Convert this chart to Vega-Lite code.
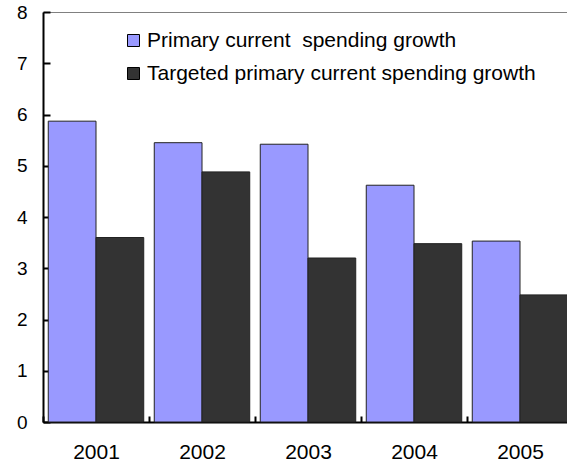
{
  "$schema": "https://vega.github.io/schema/vega-lite/v6.json",
  "autosize": "none",
  "width": 530,
  "height": 410,
  "padding": {"left": 43, "top": 12, "right": 0, "bottom": 44},
  "background": "white",
  "config": {
    "font": "Liberation Sans",
    "view": {"stroke": "#808080", "strokeWidth": 1}
  },
  "data": {
    "values": [
      {"year": "2001", "series": "Primary current \u00a0spending growth", "value": 5.87},
      {"year": "2001", "series": "Targeted primary current spending growth", "value": 3.6},
      {"year": "2002", "series": "Primary current \u00a0spending growth", "value": 5.45},
      {"year": "2002", "series": "Targeted primary current spending growth", "value": 4.88},
      {"year": "2003", "series": "Primary current \u00a0spending growth", "value": 5.42},
      {"year": "2003", "series": "Targeted primary current spending growth", "value": 3.2},
      {"year": "2004", "series": "Primary current \u00a0spending growth", "value": 4.62},
      {"year": "2004", "series": "Targeted primary current spending growth", "value": 3.48},
      {"year": "2005", "series": "Primary current \u00a0spending growth", "value": 3.53},
      {"year": "2005", "series": "Targeted primary current spending growth", "value": 2.48}
    ]
  },
  "mark": {"type": "bar", "stroke": "#222222", "strokeWidth": 1},
  "encoding": {
    "x": {
      "field": "year",
      "type": "nominal",
      "scale": {"paddingInner": 0, "paddingOuter": 0},
      "axis": {
        "title": null,
        "labelAngle": 0,
        "labelFontSize": 21,
        "labelColor": "black",
        "labelPadding": 25,
        "domainColor": "black",
        "domainWidth": 2,
        "tickColor": "black",
        "tickWidth": 2,
        "tickSize": -6,
        "tickBand": "extent"
      }
    },
    "xOffset": {
      "field": "series",
      "scale": {"paddingInner": 0, "paddingOuter": 0.11}
    },
    "y": {
      "field": "value",
      "type": "quantitative",
      "scale": {"domain": [0, 8], "nice": false},
      "axis": {
        "title": null,
        "values": [0, 1, 2, 3, 4, 5, 6, 7, 8],
        "grid": false,
        "labelFontSize": 19,
        "labelColor": "black",
        "labelPadding": 23,
        "domainColor": "black",
        "domainWidth": 2,
        "tickColor": "black",
        "tickWidth": 2,
        "tickSize": -7
      }
    },
    "color": {
      "field": "series",
      "type": "nominal",
      "scale": {"range": ["#9999ff", "#333333"]},
      "legend": {
        "title": null,
        "orient": "none",
        "legendX": 80,
        "legendY": 18,
        "symbolType": "square",
        "symbolSize": 144,
        "symbolStrokeColor": "black",
        "symbolStrokeWidth": 1,
        "symbolOpacity": 1,
        "labelFontSize": 21,
        "labelColor": "black",
        "labelOffset": 3,
        "rowPadding": 11,
        "labelLimit": 500
      }
    }
  }
}
